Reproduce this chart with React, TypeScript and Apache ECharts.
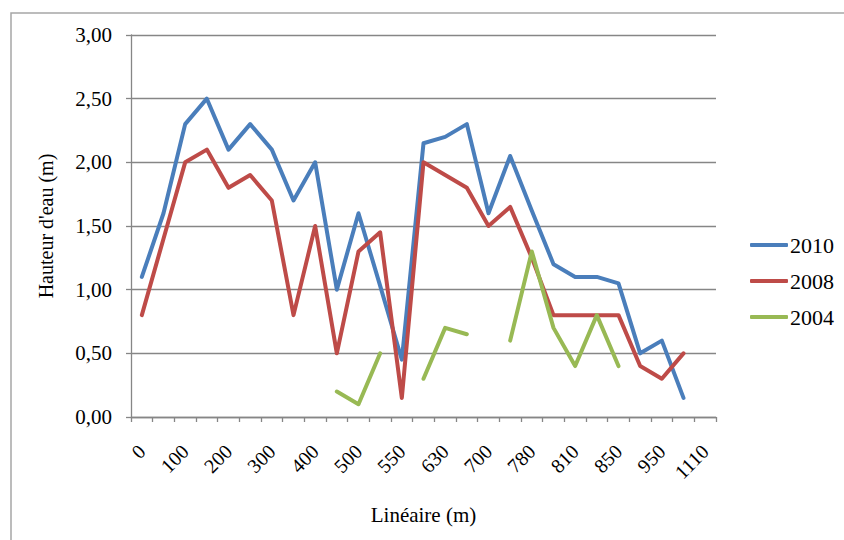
import React, { useEffect, useRef } from "react";
import * as echarts from "echarts";

const categories = ["0", "", "100", "", "200", "", "300", "", "400", "", "500", "", "550", "", "630", "", "700", "", "780", "", "810", "", "850", "", "950", "", "1110"];
const seriesNames = ["2010", "2008", "2004"];
const values2010 = [1.1, 1.6, 2.3, 2.5, 2.1, 2.3, 2.1, 1.7, 2.0, 1.0, 1.6, 1.03, 0.45, 2.15, 2.2, 2.3, 1.6, 2.05, 1.62, 1.2, 1.1, 1.1, 1.05, 0.5, 0.6, 0.15, null];
const values2008 = [0.8, 1.4, 2.0, 2.1, 1.8, 1.9, 1.7, 0.8, 1.5, 0.5, 1.3, 1.45, 0.15, 2.0, 1.9, 1.8, 1.5, 1.65, 1.25, 0.8, 0.8, 0.8, 0.8, 0.4, 0.3, 0.5, null];
const values2004 = [null, null, null, null, null, null, null, null, null, 0.2, 0.1, 0.5, null, 0.3, 0.7, 0.65, null, 0.6, 1.3, 0.7, 0.4, 0.8, 0.4, null, null, null, null];
const colors = ["#4A7EBB", "#BE4B48", "#98B954"];

const FONT = "'Liberation Serif', 'Times New Roman', serif";

export default function App() {
  const ref = useRef<HTMLDivElement>(null);
  useEffect(() => {
    if (!ref.current) return;
    const chart = echarts.init(ref.current, undefined, { renderer: "svg" });
    const mk = (name: string, data: (number | null)[], color: string) => ({
      name,
      type: "line",
      data,
      symbol: "none",
      connectNulls: false,
      lineStyle: { color, width: 4, cap: "round", join: "round" },
      itemStyle: { color },
    });
    chart.setOption({
      animation: false,
      backgroundColor: "#ffffff",
      textStyle: { fontFamily: FONT },
      graphic: [
        {
          type: "rect",
          shape: { x: 11, y: 13, width: 1000, height: 1000 },
          style: { fill: "none", stroke: "#a6a6a6", lineWidth: 1.5 },
          silent: true,
        },
      ],
      legend: {
        orient: "vertical",
        left: 745,
        top: 229,
        itemWidth: 38,
        itemHeight: 4,
        itemGap: 14,
        icon: "roundRect",
        data: seriesNames,
        textStyle: { fontFamily: FONT, fontSize: 22, color: "#000", padding: [0, 0, 0, -3] },
      },
      grid: { left: 131, right: 128, top: 35, bottom: 123 },
      xAxis: {
        type: "category",
        data: categories,
        boundaryGap: true,
        name: "Linéaire (m)",
        nameLocation: "middle",
        nameGap: 87,
        nameTextStyle: { fontFamily: FONT, fontSize: 21, color: "#000" },
        axisLine: { lineStyle: { color: "#868686", width: 1.3 } },
        axisTick: { show: true, interval: 0, length: 5, lineStyle: { color: "#868686", width: 1.3 } },
        axisLabel: { interval: 0, rotate: 45, fontFamily: FONT, fontSize: 20, color: "#000", margin: 31 },
        splitLine: { show: false },
      },
      yAxis: {
        type: "value",
        min: 0,
        max: 3,
        interval: 0.5,
        name: "Hauteur d'eau (m)",
        nameLocation: "middle",
        nameGap: 75,
        nameTextStyle: { fontFamily: FONT, fontSize: 20, color: "#000" },
        axisLine: { show: true, lineStyle: { color: "#868686", width: 1.3 } },
        axisTick: { show: true, length: 5, lineStyle: { color: "#868686", width: 1.3 } },
        axisLabel: {
          fontFamily: FONT,
          fontSize: 21,
          color: "#000",
          margin: 19,
          formatter: (v: number) => v.toFixed(2).replace(".", ","),
        },
        splitLine: { show: true, lineStyle: { color: "#868686", width: 1.3 } },
      },
      series: [
        mk(seriesNames[0], values2010, colors[0]),
        mk(seriesNames[1], values2008, colors[1]),
        mk(seriesNames[2], values2004, colors[2]),
      ],
    });
    return () => chart.dispose();
  }, []);
  return (
    <div
      ref={ref}
      style={{ position: "fixed", left: 0, top: 0, width: 844, height: 540 }}
    />
  );
}
